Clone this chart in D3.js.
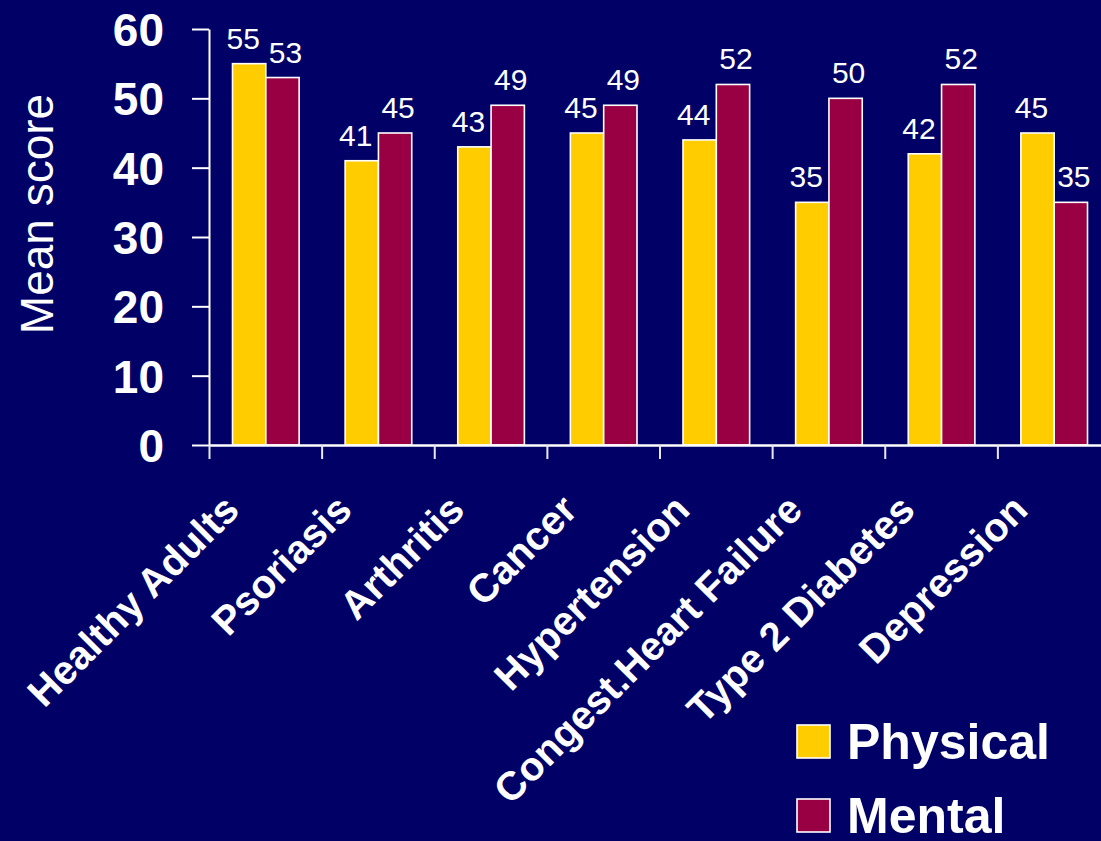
<!DOCTYPE html>
<html>
<head>
<meta charset="utf-8">
<script src="https://cdn.jsdelivr.net/npm/d3@7"></script>
<style>
  html, body { margin: 0; padding: 0; background: #000066; }
  svg { display: block; font-family: "Liberation Sans", Arial, Helvetica, sans-serif; }
</style>
</head>
<body>
<svg id="chart" width="1101" height="841"></svg>
<script>
// Mean SF-36 component scores by condition
const categories = ["Healthy Adults", "Psoriasis", "Arthritis", "Cancer", "Hypertension",
                    "Congest.Heart Failure", "Type 2 Diabetes", "Depression"];
const seriesNames = ["Physical", "Mental"];
const physical = [55, 41, 43, 45, 44, 35, 42, 45];
const mental   = [53, 45, 49, 49, 52, 50, 52, 35];
const yTicks = [0, 10, 20, 30, 40, 50, 60];
const colors = { Physical: "#FFCC00", Mental: "#990044" };

const rows = categories.map((c, i) => ({ cat: c, Physical: physical[i], Mental: mental[i] }));

const svg = d3.select("#chart");
const W = 1101, H = 841;
svg.append("rect").attr("width", W).attr("height", H).attr("fill", "#000066");

const plot = { left: 209, right: 1110, top: 29, bottom: 445 };

const x = d3.scaleBand().domain(categories).range([plot.left, plot.right]).padding(0);
const x1 = d3.scaleBand().domain(seriesNames).range([23.5, x.bandwidth() - 22.5]).padding(0);
const y = d3.scaleLinear().domain([0, 60]).range([plot.bottom, plot.top]);

// Bars
const groups = svg.append("g").selectAll("g").data(rows).join("g")
  .attr("transform", d => `translate(${x(d.cat)},0)`);

groups.selectAll("rect")
  .data(d => seriesNames.map(s => ({ s, v: d[s] })))
  .join("rect")
  .attr("x", d => x1(d.s))
  .attr("y", d => y(d.v))
  .attr("width", x1.bandwidth())
  .attr("height", d => y(0) - y(d.v))
  .attr("fill", d => colors[d.s])
  .attr("stroke", "#ffffff")
  .attr("stroke-width", 1.6);

// Value labels
groups.selectAll("text.val")
  .data(d => seriesNames.map(s => ({ s, v: d[s] })))
  .join("text")
  .attr("class", "val")
  .attr("x", d => x1(d.s) + x1.bandwidth() / 2 + (d.s === "Physical" ? -6 : 3))
  .attr("y", d => y(d.v) - 15)
  .attr("text-anchor", "middle")
  .attr("fill", "#ffffff")
  .attr("font-size", 30)
  .text(d => d.v);

// Y axis
const yAxis = svg.append("g")
  .attr("transform", `translate(${plot.left},0)`)
  .call(d3.axisLeft(y).tickValues(yTicks).tickSize(17).tickSizeOuter(0).tickPadding(28));
yAxis.select(".domain").attr("stroke", "#ffffff").attr("stroke-width", 2);
yAxis.selectAll(".tick line").attr("stroke", "#ffffff").attr("stroke-width", 2);
yAxis.selectAll(".tick text")
  .attr("fill", "#ffffff")
  .attr("font-size", 46)
  .attr("font-weight", "bold")
  .attr("font-family", "Liberation Sans, Arial, sans-serif")
  .attr("dy", "0.36em");

// X axis: tick marks at category boundaries
const xEdges = d3.scaleLinear().domain([0, categories.length]).range([plot.left, plot.right]);
const xAxis = svg.append("g")
  .attr("transform", `translate(0,${plot.bottom})`)
  .call(d3.axisBottom(xEdges).tickValues(d3.range(0, categories.length + 1))
    .tickSize(14).tickSizeOuter(0).tickFormat(""));
xAxis.select(".domain").attr("stroke", "#ffffff").attr("stroke-width", 2.5);
xAxis.selectAll(".tick line").attr("stroke", "#e8e8f4").attr("stroke-width", 2);

// Category labels, rotated
svg.append("g").selectAll("text").data(categories).join("text")
  .attr("transform", d => `translate(${x(d) + x.bandwidth() / 2 - 24},512) rotate(-45)`)
  .attr("text-anchor", "end")
  .attr("fill", "#ffffff")
  .attr("font-size", 40)
  .attr("font-weight", "bold")
  .text(d => d);

// Y axis title
svg.append("text")
  .attr("transform", "translate(53,214) rotate(-90)")
  .attr("text-anchor", "middle")
  .attr("fill", "#ffffff")
  .attr("font-size", 46)
  .text("Mean score");

// Legend
const legend = svg.append("g").selectAll("g").data(seriesNames).join("g")
  .attr("transform", (d, i) => `translate(797,${725 + i * 74})`);
legend.append("rect")
  .attr("width", 33).attr("height", 33)
  .attr("fill", d => colors[d])
  .attr("stroke", "#ffffff").attr("stroke-width", 1.6);
legend.append("text")
  .attr("x", 50).attr("y", 34)
  .attr("fill", "#ffffff")
  .attr("font-size", 50)
  .attr("font-weight", "bold")
  .text(d => d);
</script>
</body>
</html>
